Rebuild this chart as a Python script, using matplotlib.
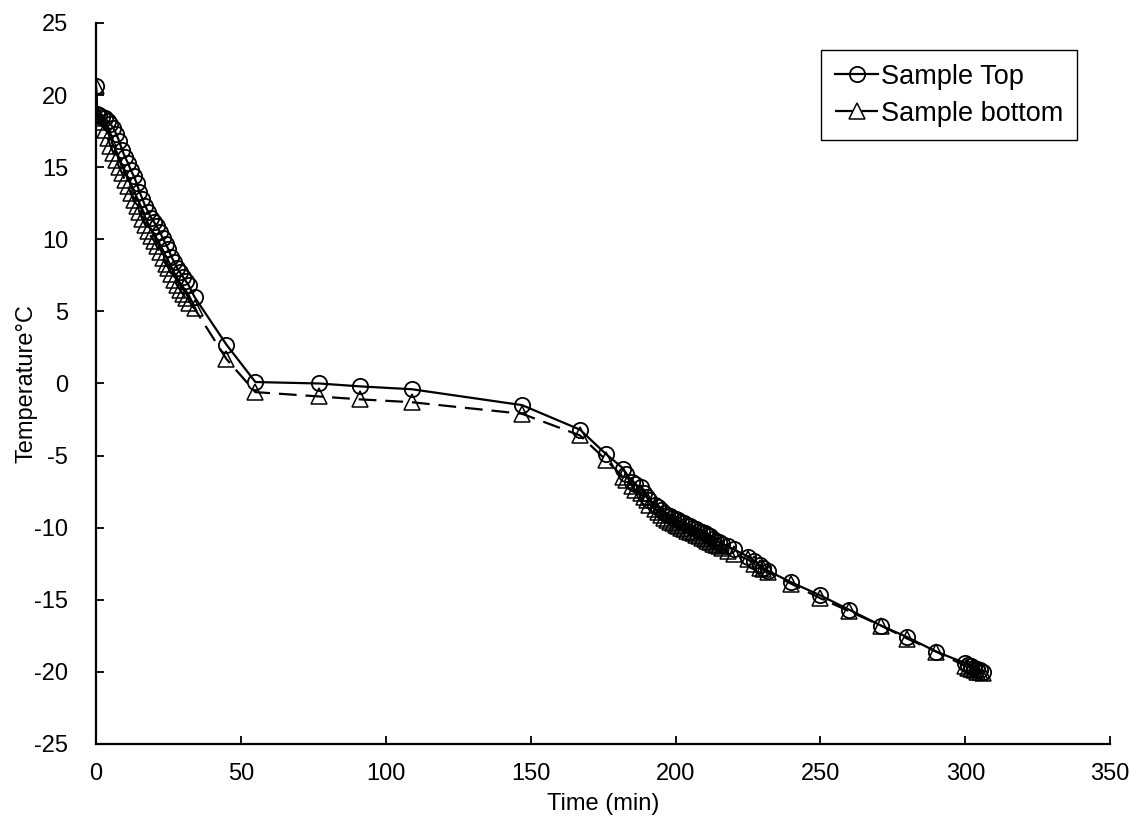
import matplotlib.pyplot as plt

plt.rcParams['font.family'] = ['Liberation Sans', 'DejaVu Sans']
plt.rcParams['axes.unicode_minus'] = False

# time (min)
time = [0, 0.5, 1, 2, 3, 4, 5, 6, 7, 8, 9, 10, 11, 12, 13, 14, 15, 16, 17, 18, 19,
        20, 21, 22, 23, 24, 25, 26, 27, 28, 29, 30, 31, 32, 34,
        45, 55, 77, 91, 109, 147, 167, 176,
        182, 183, 185, 186, 188, 189, 190, 191, 193, 194, 195, 196, 197, 198, 199,
        200, 201, 202, 203, 204, 205, 206, 207, 208, 209, 210, 211, 212, 213, 214,
        215, 216, 218, 220, 225, 227, 229, 230, 232,
        240, 250, 260, 271, 280, 290, 300, 301, 302, 303, 304, 305, 306]

temp_top = [20.6, 18.7, 18.6, 18.5, 18.4, 18.2, 18.0, 17.7, 17.3, 16.8, 16.2, 15.7,
            15.3, 14.8, 14.4, 13.9, 13.3, 12.8, 12.3, 11.9, 11.5, 11.2, 10.9, 10.5,
            10.1, 9.7, 9.3, 8.8, 8.4, 8.0, 7.7, 7.4, 7.1, 6.8, 6.0,
            2.7, 0.1, 0.0, -0.2, -0.4, -1.5, -3.2, -4.9,
            -5.9, -6.3, -6.8, -7.0, -7.2, -7.6, -7.9, -8.1, -8.4, -8.6, -8.8, -9.0,
            -9.1, -9.2, -9.3, -9.4, -9.5, -9.6, -9.7, -9.8, -9.9, -10.0, -10.1, -10.2,
            -10.3, -10.4, -10.5, -10.6, -10.8, -10.9, -11.0, -11.1, -11.3, -11.5,
            -12.0, -12.3, -12.6, -12.8, -13.0,
            -13.8, -14.7, -15.7, -16.8, -17.6, -18.6, -19.4, -19.5, -19.6, -19.7,
            -19.8, -19.9, -20.0]

temp_bottom = [20.6, 18.7, 18.4, 18.1, 17.6, 17.0, 16.5, 16.0, 15.5, 15.0, 14.6, 14.1,
               13.7, 13.2, 12.7, 12.3, 11.9, 11.4, 11.0, 10.6, 10.2, 9.9, 9.5, 9.1,
               8.7, 8.3, 8.0, 7.6, 7.2, 6.8, 6.5, 6.2, 5.9, 5.6, 5.2,
               1.7, -0.6, -0.9, -1.1, -1.3, -2.1, -3.6, -5.3,
               -6.5, -6.7, -7.1, -7.4, -7.6, -7.9, -8.1, -8.4, -8.7, -8.9, -9.1, -9.3,
               -9.5, -9.6, -9.7, -9.8, -9.9, -10.0, -10.1, -10.2, -10.3, -10.4, -10.5,
               -10.6, -10.7, -10.8, -10.9, -11.0, -11.1, -11.2, -11.3, -11.4, -11.6,
               -11.8, -12.2, -12.5, -12.8, -12.9, -13.1,
               -13.9, -14.9, -15.8, -16.8, -17.7, -18.6, -19.6, -19.7, -19.8, -19.9,
               -20.0, -20.0, -20.1]

fig = plt.figure(figsize=(11.32, 8.18), dpi=100)
ax = fig.add_axes([0.0848, 0.0905, 0.896, 0.8814])

ax.plot(time, temp_top, '-', color='black', lw=1.6, marker='o', ms=11,
        mfc='none', mec='black', mew=1.3, label='Sample Top')
ax.plot(time, temp_bottom, '--', color='black', lw=1.6, dashes=(8, 4), marker='^',
        ms=11, mfc='none', mec='black', mew=1.1, label='Sample bottom')

ax.set_xlim(0, 350)
ax.set_ylim(-25, 25)
ax.set_xticks(range(0, 351, 50))
ax.set_yticks(range(-25, 26, 5))
ax.tick_params(direction='in', labelsize=17, length=6, width=1.3)
ax.tick_params(axis='x', pad=14)
ax.tick_params(axis='y', pad=20)
for s in ['top', 'right']:
    ax.spines[s].set_visible(False)
for s in ['left', 'bottom']:
    ax.spines[s].set_linewidth(1.6)

ax.set_xlabel('Time (min)', fontsize=17)
ax.set_ylabel('Temperature°C', fontsize=17)
ax.xaxis.set_label_coords(0.5, -0.068)
ax.yaxis.set_label_coords(-0.058, 0.5)

leg = ax.legend(loc='upper right', bbox_to_anchor=(0.967, 0.962), fontsize=19.5,
                handlelength=1.6, handletextpad=0.1, borderpad=0.5,
                labelspacing=0.4, borderaxespad=0, fancybox=False,
                edgecolor='black', framealpha=1)
leg.get_frame().set_linewidth(1.0)

fig.savefig('out.png', dpi=100)
